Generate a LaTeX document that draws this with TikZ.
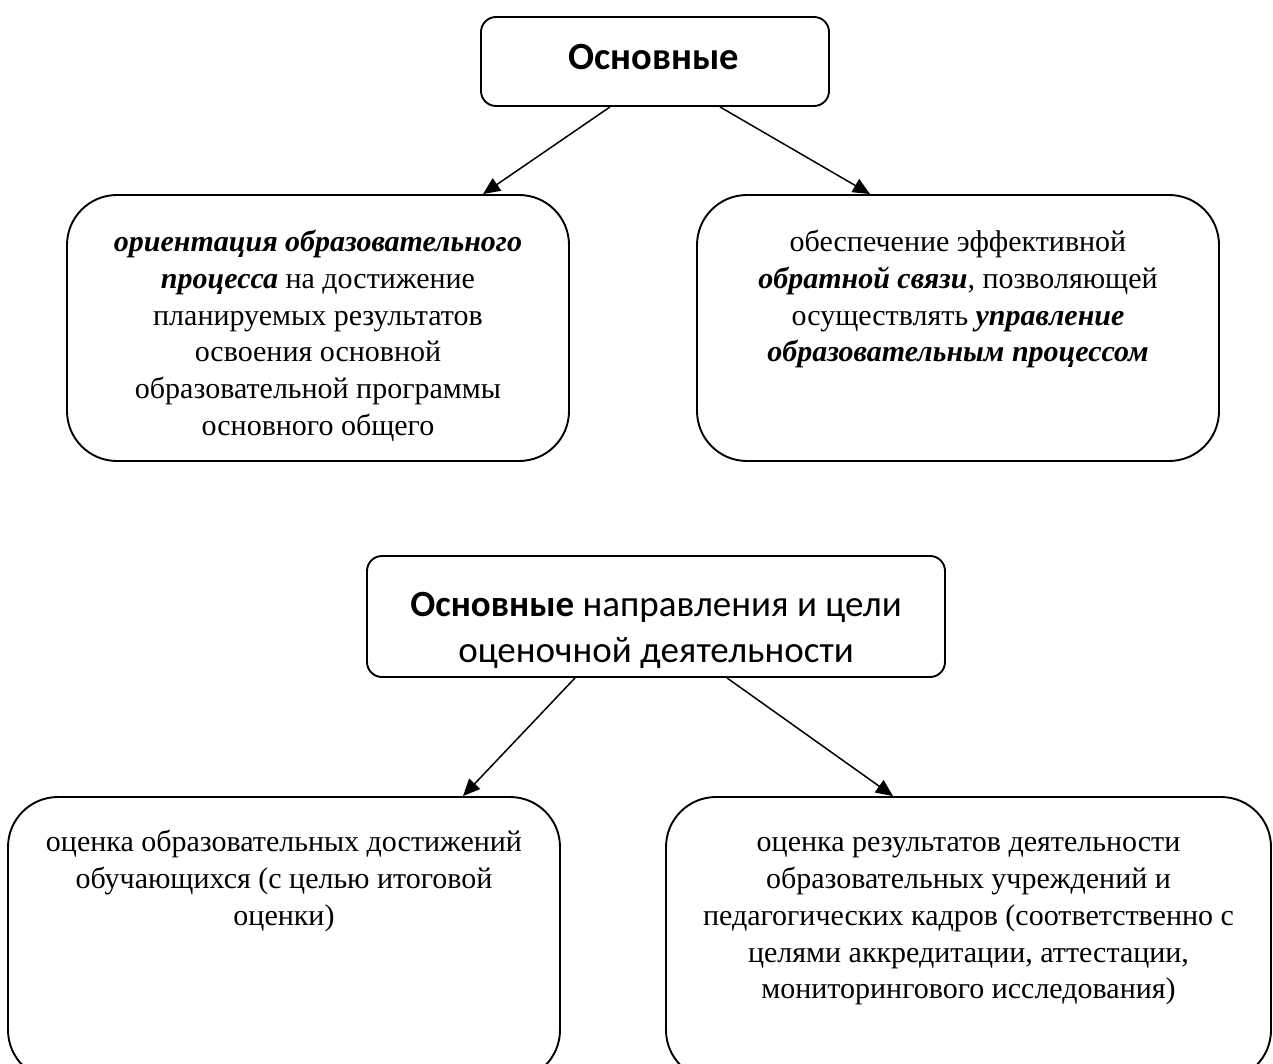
\documentclass[tikz,border=0pt]{standalone}
\usepackage{fontspec}
\setmainfont{Liberation Serif}
\newfontfamily\hdr{Carlito}
\usetikzlibrary{arrows.meta,calc}
\tikzset{
  box/.style={draw, line width=1.9pt, inner sep=0pt},
  smallbox/.style={box, rounded corners=15pt},
  bigbox/.style={box, rounded corners=50pt},
  body/.style={font=\fontsize{30}{36.7}\selectfont, align=center, inner sep=0pt, anchor=north},
  head/.style={font=\hdr\fontsize{37}{46}\selectfont, align=center, inner sep=0pt},
  link/.style={line width=1.5pt, -{Triangle[length=17pt,width=15pt]}}
}
\begin{document}
\begin{tikzpicture}[x=1pt,y=-1pt]
\useasboundingbox[fill=white] (0,0) rectangle (1273,1064);
% boxes
\node[smallbox, minimum width=348pt, minimum height=89pt] (top) at (655,61.5) {};
\node[bigbox, minimum width=502pt, minimum height=266pt] (l1) at (318,328) {};
\node[bigbox, minimum width=522pt, minimum height=266pt] (r1) at (958,328) {};
\node[smallbox, minimum width=578pt, minimum height=121pt] (mid) at (656,616.5) {};
\node[bigbox, minimum width=552pt, minimum height=283pt] (l2) at (284,938.5) {};
\node[bigbox, minimum width=605pt, minimum height=283pt] (r2) at (968.5,938.5) {};
% texts
\node[head, anchor=base, font=\hdr\fontsize{38.5}{46}\selectfont] (ttop) at (654,70) {\bfseries Основные};
\node[head, anchor=center] (tmid) at (656,630) {\textbf{Основные} направления и цели\\оценочной деятельности};
\node[body] (tl1) at (318,226) {\strut\textbf{\textit{ориентация образовательного}}\\\textbf{\textit{процесса}} на достижение\\планируемых результатов\\освоения основной\\образовательной программы\\основного общего};
\node[body] (tr1) at (958,226) {\strut обеспечение эффективной\\\textbf{\textit{обратной связи}}, позволяющей\\осуществлять \textbf{\textit{управление}}\\\textbf{\textit{образовательным процессом}}};
\node[body] (tl2) at (284,826) {\strut оценка образовательных достижений\\обучающихся (с целью итоговой\\оценки)};
\node[body] (tr2) at (968.5,826) {\strut оценка результатов деятельности\\образовательных учреждений и\\педагогических кадров (соответственно с\\целями аккредитации, аттестации,\\мониторингового исследования)};
% connectors
\draw[link] ([xshift=-45pt]top.south) -- ([xshift=165pt]l1.north);
\draw[link] ([xshift=65pt]top.south) -- ([xshift=-88pt]r1.north);
\draw[link] ([xshift=-81pt]mid.south) -- ([xshift=179pt]l2.north);
\draw[link] ([xshift=71pt]mid.south) -- ([xshift=-75.5pt]r2.north);
\end{tikzpicture}
\end{document}
